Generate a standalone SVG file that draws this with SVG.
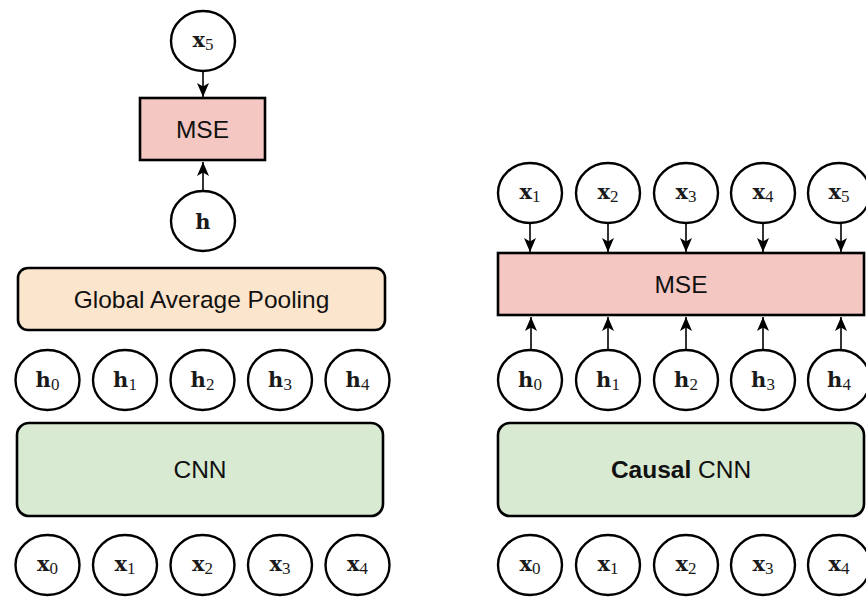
<svg xmlns="http://www.w3.org/2000/svg" width="866" height="597" viewBox="0 0 866 597">
<defs>
<marker id="arr" viewBox="0 0 14 12" refX="14" refY="6" markerWidth="14" markerHeight="12" markerUnits="userSpaceOnUse" orient="auto">
<path d="M0,0 L14,6 L0,12 L3.5,6 Z" fill="#000"/>
</marker>
<style>
.c{fill:#fff;stroke:#000;stroke-width:2.4}
.m{font-family:"Liberation Serif","Times New Roman",serif;font-size:17px;fill:#1a1a1a;text-anchor:middle}
.b{font-family:"DejaVu Serif",serif;font-weight:bold;font-size:21px}
.s{font-size:17px}
.box{stroke:#000;stroke-width:2.6}
.mse{fill:#f4c7c3}
.gap{fill:#fce5cd}
.cnn{fill:#d9ead3}
.t{font-family:"Liberation Sans",Arial,sans-serif;font-size:24.5px;fill:#111;text-anchor:middle}
.a{stroke:#000;stroke-width:1.6;fill:none;marker-end:url(#arr)}
</style>
</defs>
<rect width="866" height="597" fill="#fff"/>

<g id="connectors">
<line class="a" x1="203" y1="71" x2="203" y2="97"/>
<line class="a" x1="203" y1="191" x2="203" y2="162"/>
<line class="a" x1="530" y1="223" x2="530" y2="252"/>
<line class="a" x1="608" y1="223" x2="608" y2="252"/>
<line class="a" x1="686" y1="223" x2="686" y2="252"/>
<line class="a" x1="763" y1="223" x2="763" y2="252"/>
<line class="a" x1="841" y1="223" x2="841" y2="252"/>
<line class="a" x1="531" y1="350" x2="531" y2="317"/>
<line class="a" x1="608" y1="350" x2="608" y2="317"/>
<line class="a" x1="686" y1="350" x2="686" y2="317"/>
<line class="a" x1="763" y1="350" x2="763" y2="317"/>
<line class="a" x1="841" y1="350" x2="841" y2="317"/>
</g>

<!-- Left diagram -->
<g id="L_x5"><ellipse class="c" cx="203" cy="41" rx="32" ry="30"/><text class="m" x="203" y="47"><tspan class="b">x</tspan><tspan class="s" dy="3">5</tspan></text></g>
<g id="L_mse"><rect class="box mse" x="140" y="98" width="125" height="62"/><text class="t" x="202.5" y="138">MSE</text></g>
<g id="L_h"><ellipse class="c" cx="203" cy="221" rx="32" ry="30"/><text class="m" x="203" y="229"><tspan class="b">h</tspan></text></g>
<g id="L_gap"><rect class="box gap" x="18" y="268" width="367" height="62" rx="10"/><text class="t" x="201.5" y="308">Global Average Pooling</text></g>
<g id="L_h0"><ellipse class="c" cx="47.5" cy="380" rx="32" ry="30"/><text class="m" x="47.5" y="387"><tspan class="b">h</tspan><tspan class="s" dy="3">0</tspan></text></g>
<g id="L_h1"><ellipse class="c" cx="125" cy="380" rx="32" ry="30"/><text class="m" x="125" y="387"><tspan class="b">h</tspan><tspan class="s" dy="3">1</tspan></text></g>
<g id="L_h2"><ellipse class="c" cx="202.5" cy="380" rx="32" ry="30"/><text class="m" x="202.5" y="387"><tspan class="b">h</tspan><tspan class="s" dy="3">2</tspan></text></g>
<g id="L_h3"><ellipse class="c" cx="280" cy="380" rx="32" ry="30"/><text class="m" x="280" y="387"><tspan class="b">h</tspan><tspan class="s" dy="3">3</tspan></text></g>
<g id="L_h4"><ellipse class="c" cx="357.5" cy="380" rx="32" ry="30"/><text class="m" x="357.5" y="387"><tspan class="b">h</tspan><tspan class="s" dy="3">4</tspan></text></g>
<g id="L_cnn"><rect class="box cnn" x="17" y="423" width="366" height="93" rx="12"/><text class="t" x="200" y="478">CNN</text></g>
<g id="L_x0"><ellipse class="c" cx="47.5" cy="565" rx="32" ry="30"/><text class="m" x="47.5" y="571"><tspan class="b">x</tspan><tspan class="s" dy="3">0</tspan></text></g>
<g id="L_x1"><ellipse class="c" cx="125" cy="565" rx="32" ry="30"/><text class="m" x="125" y="571"><tspan class="b">x</tspan><tspan class="s" dy="3">1</tspan></text></g>
<g id="L_x2"><ellipse class="c" cx="202.5" cy="565" rx="32" ry="30"/><text class="m" x="202.5" y="571"><tspan class="b">x</tspan><tspan class="s" dy="3">2</tspan></text></g>
<g id="L_x3"><ellipse class="c" cx="280" cy="565" rx="32" ry="30"/><text class="m" x="280" y="571"><tspan class="b">x</tspan><tspan class="s" dy="3">3</tspan></text></g>
<g id="L_x4"><ellipse class="c" cx="357.5" cy="565" rx="32" ry="30"/><text class="m" x="357.5" y="571"><tspan class="b">x</tspan><tspan class="s" dy="3">4</tspan></text></g>

<!-- Right diagram -->
<g id="R_x1"><ellipse class="c" cx="530" cy="193" rx="32" ry="30"/><text class="m" x="530" y="199"><tspan class="b">x</tspan><tspan class="s" dy="3">1</tspan></text></g>
<g id="R_x2"><ellipse class="c" cx="608" cy="193" rx="32" ry="30"/><text class="m" x="608" y="199"><tspan class="b">x</tspan><tspan class="s" dy="3">2</tspan></text></g>
<g id="R_x3"><ellipse class="c" cx="686" cy="193" rx="32" ry="30"/><text class="m" x="686" y="199"><tspan class="b">x</tspan><tspan class="s" dy="3">3</tspan></text></g>
<g id="R_x4"><ellipse class="c" cx="763" cy="193" rx="32" ry="30"/><text class="m" x="763" y="199"><tspan class="b">x</tspan><tspan class="s" dy="3">4</tspan></text></g>
<g id="R_x5"><ellipse class="c" cx="839" cy="193" rx="31" ry="30"/><text class="m" x="839" y="199"><tspan class="b">x</tspan><tspan class="s" dy="3">5</tspan></text></g>
<g id="R_mse"><rect class="box mse" x="498" y="253" width="366" height="62"/><text class="t" x="681" y="293">MSE</text></g>
<g id="R_h0"><ellipse class="c" cx="530" cy="380" rx="32" ry="30"/><text class="m" x="530" y="387"><tspan class="b">h</tspan><tspan class="s" dy="3">0</tspan></text></g>
<g id="R_h1"><ellipse class="c" cx="608" cy="380" rx="32" ry="30"/><text class="m" x="608" y="387"><tspan class="b">h</tspan><tspan class="s" dy="3">1</tspan></text></g>
<g id="R_h2"><ellipse class="c" cx="686" cy="380" rx="32" ry="30"/><text class="m" x="686" y="387"><tspan class="b">h</tspan><tspan class="s" dy="3">2</tspan></text></g>
<g id="R_h3"><ellipse class="c" cx="763" cy="380" rx="32" ry="30"/><text class="m" x="763" y="387"><tspan class="b">h</tspan><tspan class="s" dy="3">3</tspan></text></g>
<g id="R_h4"><ellipse class="c" cx="839" cy="380" rx="31" ry="30"/><text class="m" x="839" y="387"><tspan class="b">h</tspan><tspan class="s" dy="3">4</tspan></text></g>
<g id="R_cnn"><rect class="box cnn" x="498" y="423" width="366" height="93" rx="12"/><text class="t" x="681" y="478"><tspan font-weight="bold">Causal</tspan> CNN</text></g>
<g id="R_x0b"><ellipse class="c" cx="530" cy="565" rx="32" ry="30"/><text class="m" x="530" y="571"><tspan class="b">x</tspan><tspan class="s" dy="3">0</tspan></text></g>
<g id="R_x1b"><ellipse class="c" cx="608" cy="565" rx="32" ry="30"/><text class="m" x="608" y="571"><tspan class="b">x</tspan><tspan class="s" dy="3">1</tspan></text></g>
<g id="R_x2b"><ellipse class="c" cx="686" cy="565" rx="32" ry="30"/><text class="m" x="686" y="571"><tspan class="b">x</tspan><tspan class="s" dy="3">2</tspan></text></g>
<g id="R_x3b"><ellipse class="c" cx="763" cy="565" rx="32" ry="30"/><text class="m" x="763" y="571"><tspan class="b">x</tspan><tspan class="s" dy="3">3</tspan></text></g>
<g id="R_x4b"><ellipse class="c" cx="839" cy="565" rx="31" ry="30"/><text class="m" x="839" y="571"><tspan class="b">x</tspan><tspan class="s" dy="3">4</tspan></text></g>
</svg>
